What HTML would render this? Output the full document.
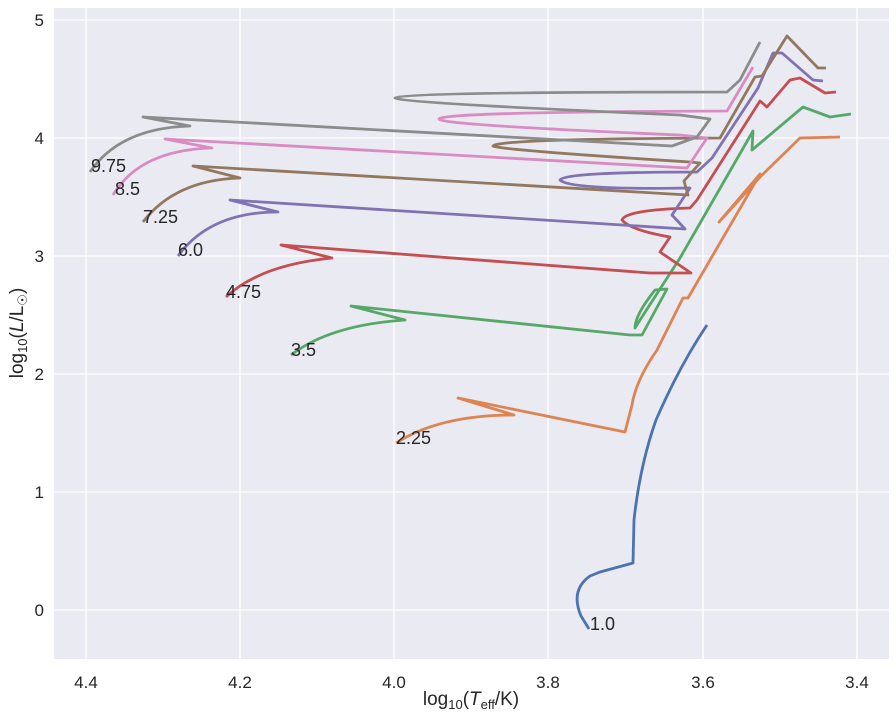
<!DOCTYPE html>
<html><head><meta charset="utf-8"><style>
body{margin:0;background:#fff;}
svg text{font-family:"Liberation Sans","DejaVu Sans",sans-serif;fill:#262626;}
</style></head><body>
<svg width="896" height="717" viewBox="0 0 896 717" xmlns="http://www.w3.org/2000/svg">
<rect x="54" y="8" width="835" height="651" fill="#eaeaf2"/>
<g stroke="#fff" stroke-width="1.3">
<line x1="86" y1="8" x2="86" y2="659"/><line x1="240" y1="8" x2="240" y2="659"/><line x1="394" y1="8" x2="394" y2="659"/><line x1="548" y1="8" x2="548" y2="659"/><line x1="703" y1="8" x2="703" y2="659"/><line x1="857" y1="8" x2="857" y2="659"/>
<line x1="54" y1="20" x2="889" y2="20"/><line x1="54" y1="138" x2="889" y2="138"/><line x1="54" y1="256" x2="889" y2="256"/><line x1="54" y1="374" x2="889" y2="374"/><line x1="54" y1="492" x2="889" y2="492"/><line x1="54" y1="610" x2="889" y2="610"/>
</g>
<g fill="none" stroke-width="2.8" stroke-linejoin="round">
<path stroke="#4c72b0" d="M589,629 L581,616 Q570,590 590,576 L600,572 L633,563 L634,520 Q640,465 656,420 Q680,365 707,325"/>
<path stroke="#dd8452" d="M396,443 Q440,415 514,415 L458,398 L625,432 L632,405 Q636,380 657,350 L683,298 L688,298 L760,174 L719,222 L760,177 L800,138 L840,137"/>
<path stroke="#55a868" d="M291,355 Q330,325 405,320 L351,306 L630,335 L642,335 L667,289 L655,290 Q635,315 635,328 L640,320 L680,258 L753,131 L752,150 L803,107 L830,117 L851,114"/>
<path stroke="#c44e52" d="M226,297 Q260,265 332,258 L281,245 L650,273 L691,273 L660,252 L670,237 Q630,230 622,220 Q625,210 690,208 L697,200 L760,101 L767,107 L790,80 L800,78 L825,93 L836,92"/>
<path stroke="#8172b3" d="M178,256 Q210,212 278,212 L230,200 L685,229 L672,215 L690,188 Q570,190 560,180 Q565,172 697,172 L712,158 L758,88 L773,53 L782,53 L813,80 L823,81"/>
<path stroke="#937860" d="M143,222 Q175,180 240,178 L193,166 L688,195 L684,181 L700,163 L690,162 Q500,150 493,146 Q495,139 720,138 L755,77 L762,76 L787,36 L818,68 L826,68"/>
<path stroke="#da8bc3" d="M113,195 Q140,150 212,148 L165,139 L687,168 L707,138 L680,135 Q440,125 439,119 Q440,112 727,111 L753,67"/>
<path stroke="#8c8c8c" d="M90,172 Q120,128 190,126 L143,117 L672,146 L697,137 L710,119 L680,115 Q400,103 395,98 Q400,92 727,92 L740,80 L760,42"/>
</g>
<g font-size="18">
<text x="91" y="172">9.75</text><text x="115" y="195">8.5</text><text x="143" y="223">7.25</text><text x="178" y="256">6.0</text><text x="226" y="298">4.75</text><text x="291" y="356">3.5</text><text x="396" y="444">2.25</text><text x="590" y="630">1.0</text>
</g>
<g font-size="17" text-anchor="middle">
<text x="86" y="688">4.4</text><text x="240" y="688">4.2</text><text x="394" y="688">4.0</text><text x="548" y="688">3.8</text><text x="703" y="688">3.6</text><text x="857" y="688">3.4</text>
</g>
<g font-size="17" text-anchor="end">
<text x="44" y="26">5</text><text x="44" y="144">4</text><text x="44" y="262">3</text><text x="44" y="380">2</text><text x="44" y="498">1</text><text x="44" y="616">0</text>
</g>
<text x="471" y="705" font-size="19" text-anchor="middle">log<tspan font-size="13" dy="4">10</tspan><tspan dy="-4">(</tspan><tspan font-style="italic">T</tspan><tspan font-size="13" dy="4">eff</tspan><tspan dy="-4">/K)</tspan></text>
<text transform="translate(23,333) rotate(-90)" font-size="19" text-anchor="middle">log<tspan font-size="13" dy="4">10</tspan><tspan dy="-4">(</tspan><tspan font-style="italic">L</tspan>/L<tspan font-size="13" dy="4">☉</tspan><tspan dy="-4">)</tspan></text>
</svg>
</body></html>
